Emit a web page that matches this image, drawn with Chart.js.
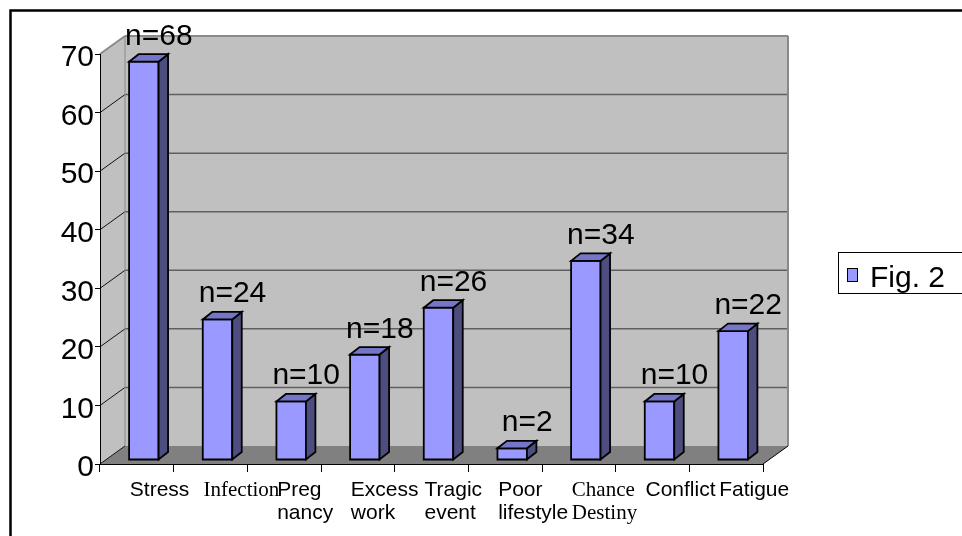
<!DOCTYPE html>
<html>
<head>
<meta charset="utf-8">
<script src="https://cdn.jsdelivr.net/npm/chart.js@4/dist/chart.umd.min.js"></script>
<style>
  html, body { margin: 0; padding: 0; background: #fff; overflow: hidden; }
  canvas { display: block; }
</style>
</head>
<body>
<canvas id="c" width="962" height="536"></canvas>
<script>
// ---- data ----
const categories = ['Stress', 'Infection', ['Preg', 'nancy'], ['Excess', 'work'], ['Tragic', 'event'],
                    ['Poor', 'lifestyle'], ['Chance', 'Destiny'], 'Conflict', 'Fatigue'];
const counts = [68, 24, 10, 18, 26, 2, 34, 10, 22];
const seriesName = 'Fig. 2';
const yTicks = [0, 10, 20, 30, 40, 50, 60, 70];

// ---- styling ----
const SANS = '"Liberation Sans", Arial, sans-serif';
const SERIF = '"Liberation Serif", "Times New Roman", serif';
const serifCategoryIdx = new Set([1, 6]);

const WALL_DEPTH = { x: 25, y: -18 };   // projection of the wall/floor depth
const BAR_SHIFT = { x: 7, y: -4 };      // bars stand slightly behind the front plane
const BAR_DEPTH = { x: 9.5, y: -7.5 };  // depth of each bar box
const COLORS = {
  front: '#9999ff', top: '#7676c8', side: '#4d4d80',
  wall: '#c0c0c0', floor: '#808080', grid: '#5f5f5f', edge: '#8a8a8a'
};

function poly(ctx, pts, fill, stroke, lw) {
  ctx.beginPath();
  ctx.moveTo(pts[0][0], pts[0][1]);
  for (let i = 1; i < pts.length; i++) ctx.lineTo(pts[i][0], pts[i][1]);
  ctx.closePath();
  if (fill) { ctx.fillStyle = fill; ctx.fill(); }
  if (stroke) { ctx.strokeStyle = stroke; ctx.lineWidth = lw || 1; ctx.stroke(); }
}
function seg(ctx, x1, y1, x2, y2, color, lw) {
  ctx.beginPath();
  ctx.moveTo(x1, y1);
  ctx.lineTo(x2, y2);
  ctx.strokeStyle = color;
  ctx.lineWidth = lw;
  ctx.stroke();
}

// walls, floor, gridlines and the frame behind everything
const scene3d = {
  id: 'scene3d',
  beforeDraw(chart) {
    const ctx = chart.ctx;
    const { left, right, top, bottom } = chart.chartArea;
    const ys = chart.scales.y;
    const dx = WALL_DEPTH.x, dy = WALL_DEPTH.y;
    ctx.save();
    ctx.fillStyle = '#fff';
    ctx.fillRect(0, 0, chart.width, chart.height);

    // back wall
    ctx.fillStyle = COLORS.wall;
    ctx.fillRect(left + dx, top + dy, right - left, bottom - top);
    // side wall
    poly(ctx, [[left, top], [left + dx, top + dy], [left + dx, bottom + dy], [left, bottom]], COLORS.wall);
    // floor
    poly(ctx, [[left, bottom], [right, bottom], [right + dx, bottom + dy], [left + dx, bottom + dy]], COLORS.floor);

    // gridlines: across the back wall and diagonally over the side wall
    const vmin = ys.min, vmax = ys.max;
    yTicks.forEach(v => {
      const py = ys.getPixelForValue(v);
      if (v > vmin && v < vmax) {
        seg(ctx, left + dx, py + dy, right + dx, py + dy, COLORS.grid, 1.5);
      }
      seg(ctx, left, py, left + dx, py + dy, v === vmax ? COLORS.edge : '#111', v === vmax ? 2 : 1);
    });

    // wall edges
    ctx.lineJoin = 'miter';
    seg(ctx, left + dx, top + dy, right + dx, top + dy, COLORS.edge, 2);
    seg(ctx, right + dx, top + dy, right + dx, bottom + dy, COLORS.edge, 2);
    seg(ctx, left + dx, top + dy, left + dx, bottom + dy, COLORS.edge, 1);
    // floor right edge
    seg(ctx, right, bottom, right + dx, bottom + dy, '#000', 1);

    // outer frame
    ctx.strokeStyle = '#000';
    ctx.lineWidth = 2.5;
    ctx.strokeRect(10.5, 10.5, 2000, 2000);
    ctx.restore();
  },
  afterDatasetsDraw(chart) {
    const ctx = chart.ctx;
    const meta = chart.getDatasetMeta(0);
    const values = chart.data.datasets[0].data;
    const ddx = BAR_DEPTH.x, ddy = BAR_DEPTH.y;
    ctx.save();
    ctx.lineJoin = 'miter';
    const labels = [];
    meta.data.forEach((bar, i) => {
      const { x, y, base, width } = bar.getProps(['x', 'y', 'base', 'width'], true);
      const l = x - width / 2 + BAR_SHIFT.x, r = x + width / 2 + BAR_SHIFT.x;
      const t = y + BAR_SHIFT.y, b = base + BAR_SHIFT.y;
      poly(ctx, [[l, t], [r, t], [r, b], [l, b]], COLORS.front, '#000', 1.8);
      poly(ctx, [[r, t], [r + ddx, t + ddy], [r + ddx, b + ddy], [r, b]], COLORS.side, '#000', 1.8);
      poly(ctx, [[l, t], [l + ddx, t + ddy], [r + ddx, t + ddy], [r, t]], COLORS.top, '#000', 1.8);
      labels.push({ text: 'n=' + values[i], x: (l + r) / 2 + 15, y: t - 17 });
    });
    ctx.fillStyle = '#000';
    ctx.font = '30px ' + SANS;
    ctx.textAlign = 'center';
    ctx.textBaseline = 'alphabetic';
    labels.forEach(lb => ctx.fillText(lb.text, lb.x, lb.y));
    ctx.restore();
  },
  afterDraw(chart) {
    // legend box on the right
    const ctx = chart.ctx;
    const ds = chart.data.datasets[0];
    ctx.save();
    ctx.strokeStyle = '#000';
    ctx.lineWidth = 1;
    ctx.strokeRect(838.5, 252.5, 140, 41);
    ctx.fillStyle = COLORS.front;
    ctx.fillRect(847.5, 268.5, 10, 13);
    ctx.strokeRect(847.5, 268.5, 10, 13);
    ctx.fillStyle = '#000';
    ctx.font = '30px ' + SANS;
    ctx.textAlign = 'left';
    ctx.textBaseline = 'alphabetic';
    ctx.fillText(ds.label, 870, 287);
    ctx.restore();
  }
};

new Chart(document.getElementById('c'), {
  type: 'bar',
  data: {
    labels: categories,
    datasets: [{
      label: seriesName,
      data: counts,
      backgroundColor: 'rgba(0,0,0,0)',
      borderWidth: 0,
      barPercentage: 0.4,
      categoryPercentage: 1
    }]
  },
  options: {
    responsive: false,
    animation: false,
    devicePixelRatio: 1,
    layout: { padding: { left: 0, top: 54, right: 199, bottom: 0 } },
    plugins: { legend: { display: false }, tooltip: { enabled: false } },
    scales: {
      x: {
        grid: { display: true, drawOnChartArea: false, drawTicks: true, tickLength: 8, color: '#000', offset: true },
        border: { display: true, color: '#000', width: 1 },
        ticks: {
          color: '#000', align: 'start', labelOffset: -7, padding: 7,
          maxRotation: 0, minRotation: 0, autoSkip: false,
          font: (c) => ({ family: serifCategoryIdx.has(c.index) ? SERIF : SANS, size: 21, lineHeight: 1.1 })
        },
        afterFit(s) { s.height = 72; }
      },
      y: {
        min: 0, max: 70,
        afterBuildTicks(s) { s.ticks = yTicks.map(v => ({ value: v })); },
        grid: { display: true, drawOnChartArea: false, drawTicks: true, tickLength: 5, color: '#000' },
        border: { display: true, color: '#000', width: 1 },
        ticks: { color: '#000', padding: 1, labelOffset: 4, font: { family: SANS, size: 30 } },
        afterFit(s) { s.width = 100; }
      }
    }
  },
  plugins: [scene3d]
});
</script>
</body>
</html>
